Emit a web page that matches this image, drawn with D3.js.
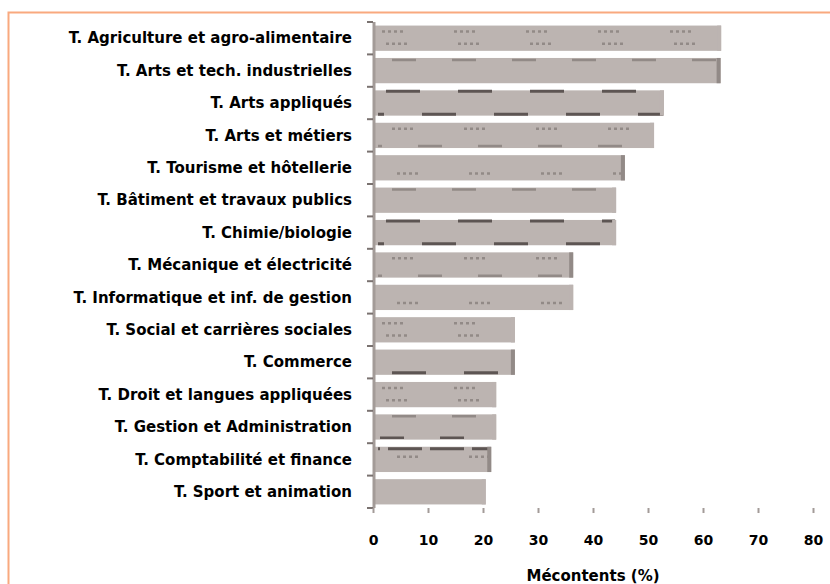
<!DOCTYPE html>
<meta charset="utf-8">
<html>
<head>
<script src="https://d3js.org/d3.v7.min.js"></script>
<style>
    body { margin: 0; background: #fff; }
    svg text { font-family: "DejaVu Sans", Verdana, sans-serif; font-weight: bold; fill: #000; }
</style>
</head>
<body>
    <div id="my_dataviz"></div>
    <script>

        // categories, top to bottom
        var categories = [
            "T. Agriculture et agro-alimentaire",
            "T. Arts et tech. industrielles",
            "T. Arts appliqués",
            "T. Arts et métiers",
            "T. Tourisme et hôtellerie",
            "T. Bâtiment et travaux publics",
            "T. Chimie/biologie",
            "T. Mécanique et électricité",
            "T. Informatique et inf. de gestion",
            "T. Social et carrières sociales",
            "T. Commerce",
            "T. Droit et langues appliquées",
            "T. Gestion et Administration",
            "T. Comptabilité et finance",
            "T. Sport et animation"
        ];
        // % mécontents
        var values = [63.3, 63.2, 52.9, 51.1, 45.8, 44.2, 44.2, 36.4, 36.4, 25.8, 25.8, 22.4, 22.4, 21.5, 20.5];
        var xTicks = [0, 10, 20, 30, 40, 50, 60, 70, 80];
        var xTitle = "Mécontents (%)";

        var width = 830, height = 584;

        var svg = d3.select("#my_dataviz")
            .append("svg")
            .attr("width", width)
            .attr("height", height);

        // orange frame (only top and left visible)
        svg.append("path")
            .attr("d", "M8.5,584 L8.5,12.5 L830,12.5")
            .attr("fill", "none")
            .attr("stroke", "#f9a97f")
            .attr("stroke-width", 2);

        var x = d3.scaleLinear()
            .domain([0, 80])
            .range([373, 813]);

        var y = d3.scaleBand()
            .domain(categories)
            .range([22, 508])
            .paddingInner(0.22)
            .paddingOuter(0.11);

        var data = categories.map(function (c, i) { return { name: c, value: values[i], i: i }; });

        // texture of each bar (scan noise of the original fills)
        var texture = ["dots2", "dashTop", "dark", "dotsDash", "dotsBot", "dashTop", "dark", "dotsDash",
                       "dotsBot", "dots2", "darkBot", "dots2", "dashBoth", "darkTop", "plain"];

        var bars = svg.selectAll("myBars")
            .data(data)
            .enter()
            .append("g");

        bars.append("rect")
            .attr("x", x(0))
            .attr("y", function (d) { return y(d.name) })
            .attr("width", function (d) { return x(d.value) - x(0) })
            .attr("height", y.bandwidth())
            .attr("fill", "#bcb4b1");

        var dotDash = "3 3 3 3 3 3 3 51";
        var lineDash = "24 36";

        function hline(g, d, dy, color, dash, w, offset) {
            g.append("line")
                .attr("x1", x(0) + 5)
                .attr("x2", x(d.value) - 1)
                .attr("y1", y(d.name) + dy)
                .attr("y2", y(d.name) + dy)
                .attr("stroke", color)
                .attr("stroke-width", w || 2)
                .attr("stroke-dasharray", dash)
                .attr("stroke-dashoffset", offset || 0);
        }

        bars.each(function (d) {
            var g = d3.select(this), t = texture[d.i], bh = y.bandwidth();
            if (t == "dots2") {
                hline(g, d, 6, "#928a87", dotDash, 2.5, -4);
                hline(g, d, bh - 7, "#928a87", dotDash, 2.5, -8);
            } else if (t == "dashTop") {
                hline(g, d, 2, "#928a87", lineDash, 2.5, -14);
            } else if (t == "dark") {
                hline(g, d, 1, "#5d5553", "34 38", 3, -8);
                hline(g, d, bh - 1.5, "#5d5553", "34 38", 3, -44);
            } else if (t == "dotsDash") {
                hline(g, d, 6, "#928a87", dotDash, 2.5, -14);
                hline(g, d, bh - 2, "#928a87", lineDash, 2.5, -40);
            } else if (t == "dotsBot") {
                hline(g, d, bh - 7, "#928a87", dotDash, 2.5, -19);
            } else if (t == "darkBot") {
                hline(g, d, bh - 2, "#5d5553", "34 38", 3, -14);
            } else if (t == "dashBoth") {
                hline(g, d, 2, "#928a87", lineDash, 2.5, -14);
                hline(g, d, bh - 2, "#5d5553", lineDash, 2.5, -2);
            } else if (t == "darkTop") {
                hline(g, d, 2, "#5d5553", "34 8", 3, -10);
                hline(g, d, 10, "#928a87", dotDash, 2.5, -19);
            }
            // darker right edge
            g.append("rect")
                .attr("x", x(d.value) - 4)
                .attr("y", y(d.name))
                .attr("width", 4)
                .attr("height", bh)
                .attr("fill", d.i % 3 == 1 ? "#928a87" : "#bcb4b1");
        });

        // y axis: line with ticks between categories
        var yAxis = svg.append("g");
        yAxis.append("line")
            .attr("x1", x(0) + 1).attr("x2", x(0) + 1)
            .attr("y1", 22).attr("y2", 508)
            .attr("stroke", "#a39b98")
            .attr("stroke-width", 3);
        yAxis.selectAll("yTicks")
            .data(d3.range(categories.length + 1))
            .enter()
            .append("line")
            .attr("x1", x(0) - 6).attr("x2", x(0))
            .attr("y1", function (i) { return 22 + i * y.step() })
            .attr("y2", function (i) { return 22 + i * y.step() })
            .attr("stroke", "#7a7270")
            .attr("stroke-width", 2);

        // category labels
        svg.selectAll("myLabels")
            .data(data)
            .enter()
            .append("text")
            .attr("x", 352)
            .attr("y", function (d) { return y(d.name) + y.bandwidth() / 2 })
            .attr("dy", "0.35em")
            .attr("text-anchor", "end")
            .style("font-size", "15px")
            .text(function (d) { return d.name });

        // x axis: ticks and labels, no line
        var xAxis = svg.append("g")
            .attr("transform", "translate(0,508)")
            .call(d3.axisBottom(x).tickValues(xTicks).tickSize(5).tickPadding(22));
        xAxis.select(".domain").remove();
        xAxis.selectAll(".tick line").attr("stroke", "#a39b98").attr("stroke-width", 2);
        xAxis.selectAll(".tick text")
            .style("font-size", "14px")
            .style("font-family", "'DejaVu Sans', Verdana, sans-serif")
            .style("font-weight", "bold");

        svg.append("text")
            .attr("x", x(40))
            .attr("y", 581)
            .attr("text-anchor", "middle")
            .style("font-size", "15px")
            .text(xTitle);

    </script>
</body>
</html>
